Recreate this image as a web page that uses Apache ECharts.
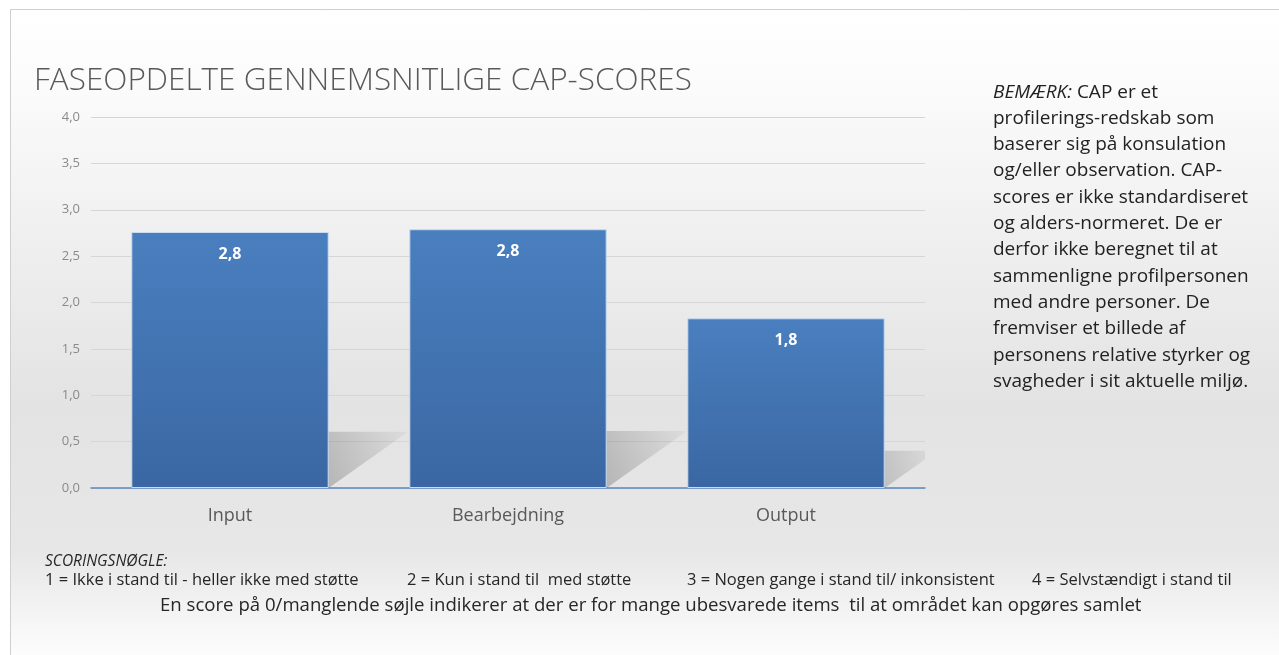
<!DOCTYPE html>
<html>
<head>
<meta charset="utf-8">
<script src="https://cdn.jsdelivr.net/npm/echarts@6/dist/echarts.min.js"></script>
<style>
  html, body { margin: 0; padding: 0; background: #fff; }
  #main { width: 1279px; height: 655px; }
</style>
</head>
<body>
<div id="main"></div>
<script>
// data
var categories = ["Input", "Bearbejdning", "Output"];
var scores = [2.76, 2.79, 1.83];

var titleText = "FASEOPDELTE GENNEMSNITLIGE CAP-SCORES";
var noteLines = [
  "profilerings-redskab som",
  "baserer sig på konsulation",
  "og/eller observation. CAP-",
  "scores er ikke standardiseret",
  "og alders-normeret. De er",
  "derfor ikke beregnet til at",
  "sammenligne profilpersonen",
  "med andre personer. De",
  "fremviser et billede af",
  "personens relative styrker og",
  "svagheder i sit aktuelle miljø."
];
var keyItems = [
  "1 = Ikke i stand til - heller ikke med støtte",
  "2 = Kun i stand til  med støtte",
  "3 = Nogen gange i stand til/ inkonsistent",
  "4 = Selvstændigt i stand til"
];
var footText = "En score på 0/manglende søjle indikerer at der er for mange ubesvarede items  til at området kan opgøres samlet";

var FONT = "'Open Sans', Lato, sans-serif";
var chart = echarts.init(document.getElementById("main"));

function fmt(v) {
  return v.toFixed(1).replace(".", ",");
}

var keyX = [45, 407, 687, 1032];

function label(x, y, text, size, extra) {
  var style = { text: text, x: x, y: y, align: "left", verticalAlign: "middle", fontFamily: FONT, fontSize: size, fill: "#262626" };
  for (var k in extra) style[k] = extra[k];
  return { type: "text", style: style };
}

var option = {
  animation: false,
  backgroundColor: "#ffffff",
  textStyle: { fontFamily: FONT },
  grid: { left: 91, right: 354, top: 117, bottom: 167 },
  xAxis: {
    type: "category",
    data: categories,
    axisLine: { lineStyle: { color: "#5b87bf", width: 1.5 } },
    axisTick: { length: 7, lineStyle: { color: "#5b87bf", width: 1.5 } },
    axisLabel: { color: "#595959", fontSize: 18, fontFamily: FONT, margin: 19 }
  },
  yAxis: {
    type: "value",
    min: 0,
    max: 4,
    interval: 0.5,
    axisLine: { show: false },
    axisTick: { show: false },
    splitLine: { lineStyle: { color: "#d6d6d6", width: 1 } },
    axisLabel: {
      color: "#8a8a8a",
      fontSize: 13,
      fontFamily: FONT,
      margin: 11,
      formatter: function (v) { return fmt(v); }
    }
  },
  series: [
    {
      // perspective shadow behind each bar
      type: "custom",
      z: 1,
      clip: true,
      data: scores.map(function (v, i) { return [i, v]; }),
      renderItem: function (params, api) {
        var base = api.coord([api.value(0), 0]);
        var top = api.coord([api.value(0), api.value(1)]);
        var bw = api.size([1, 0])[0] * 0.71;
        var xl = base[0] - bw / 2, xr = base[0] + bw / 2;
        var h = base[1] - top[1];
        var s = 0.31 * h, k = 0.22;
        return {
          type: "polygon",
          shape: { points: [[xl, base[1]], [xr, base[1]], [xr + s, base[1] - k * h], [xl + s, base[1] - k * h]] },
          style: {
            fill: new echarts.graphic.LinearGradient(1, 0, 0.6, 1, [
              { offset: 0, color: "rgba(0,0,0,0.03)" },
              { offset: 1, color: "rgba(0,0,0,0.26)" }
            ])
          }
        };
      }
    },
    {
      type: "bar",
      z: 2,
      data: scores,
      barCategoryGap: "29%",
      itemStyle: {
        color: new echarts.graphic.LinearGradient(0, 0, 0, 1, [
          { offset: 0, color: "#4a7fbf" },
          { offset: 1, color: "#3a67a3" }
        ]),
        borderColor: "#c9dcf0",
        borderWidth: 1
      },
      label: {
        show: true,
        position: "insideTop",
        distance: 14,
        color: "#ffffff",
        fontWeight: "bold",
        fontSize: 16,
        fontFamily: FONT,
        formatter: function (p) { return fmt(p.value); }
      }
    }
  ],
  graphic: [
    {
      type: "rect",
      z: -10,
      silent: true,
      shape: { x: 10.5, y: 9.5, width: 1290, height: 660 },
      style: {
        fill: new echarts.graphic.LinearGradient(0, 0, 0, 1, [
          { offset: 0, color: "#ffffff" },
          { offset: 0.12, color: "#fbfbfb" },
          { offset: 0.35, color: "#efefef" },
          { offset: 0.6, color: "#e3e3e3" },
          { offset: 0.82, color: "#e7e7e7" },
          { offset: 0.93, color: "#f6f6f6" },
          { offset: 1, color: "#ffffff" }
        ]),
        stroke: "#cfcfcf",
        lineWidth: 1
      }
    },
    label(34, 81, titleText, 31.5, { fontWeight: 300, fill: "#595959" }),
    {
      type: "text",
      style: {
        x: 993,
        y: 79,
        text: "{i|BEMÆRK:} CAP er et\n" + noteLines.join("\n"),
        fontFamily: FONT,
        fontSize: 19,
        lineHeight: 26.3,
        fill: "#222222",
        rich: { i: { fontStyle: "italic", fontFamily: FONT, fontSize: 19, lineHeight: 26.3, fill: "#222222" } }
      }
    },
    label(45, 562, "SCORINGSNØGLE:", 15.5, { fontStyle: "italic" })
  ].concat(keyItems.map(function (t, i) {
    return label(keyX[i], 580, t, 16.5);
  })).concat([
    label(160, 606, footText, 18.6)
  ])
};

chart.setOption(option);
</script>
</body>
</html>
